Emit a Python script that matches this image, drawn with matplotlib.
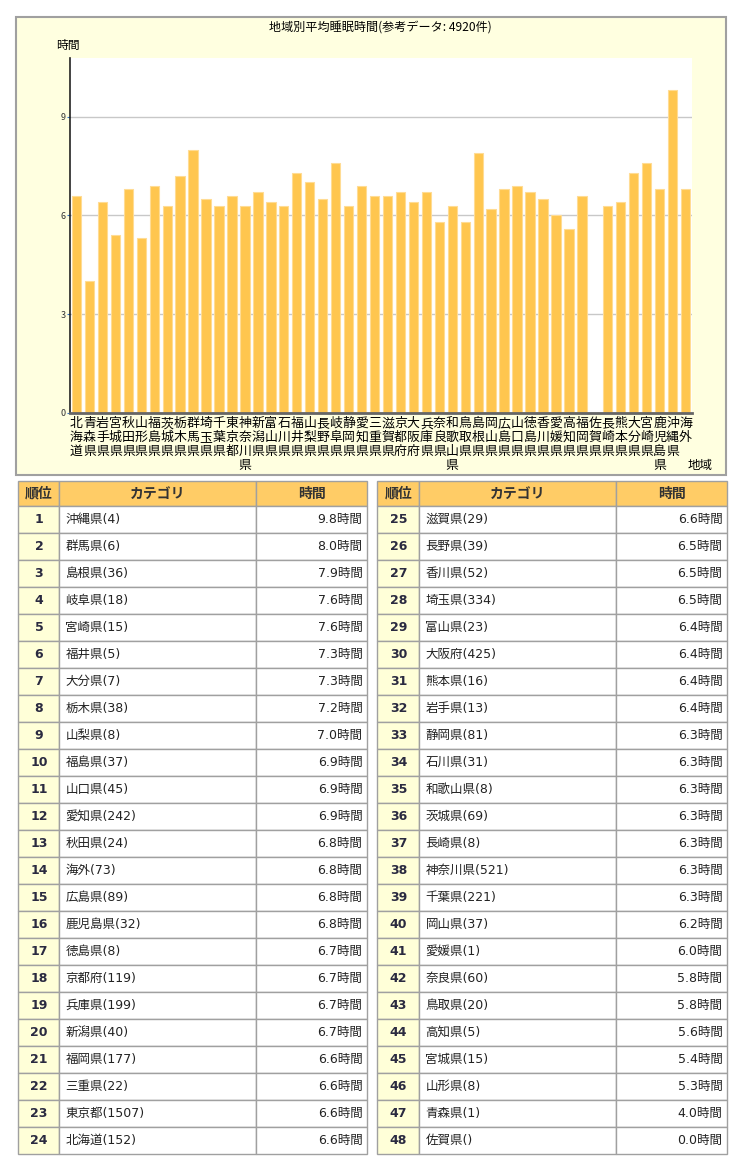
import numpy as np
import matplotlib
matplotlib.use('Agg')
import matplotlib.pyplot as plt
from matplotlib.patches import Rectangle

plt.rcParams['font.family'] = ['Noto Sans CJK JP', 'DejaVu Sans']

# chart data: prefectures in chart order
prefectures = ['北海道', '青森県', '岩手県', '宮城県', '秋田県', '山形県', '福島県', '茨城県',
               '栃木県', '群馬県', '埼玉県', '千葉県', '東京都', '神奈川県', '新潟県', '富山県',
               '石川県', '福井県', '山梨県', '長野県', '岐阜県', '静岡県', '愛知県', '三重県',
               '滋賀県', '京都府', '大阪府', '兵庫県', '奈良県', '和歌山県', '鳥取県', '島根県',
               '岡山県', '広島県', '山口県', '徳島県', '香川県', '愛媛県', '高知県', '福岡県',
               '佐賀県', '長崎県', '熊本県', '大分県', '宮崎県', '鹿児島県', '沖縄県', '海外']
hours = [6.6, 4.0, 6.4, 5.4, 6.8, 5.3, 6.9, 6.3,
         7.2, 8.0, 6.5, 6.3, 6.6, 6.3, 6.7, 6.4,
         6.3, 7.3, 7.0, 6.5, 7.6, 6.3, 6.9, 6.6,
         6.6, 6.7, 6.4, 6.7, 5.8, 6.3, 5.8, 7.9,
         6.2, 6.8, 6.9, 6.7, 6.5, 6.0, 5.6, 6.6,
         0.0, 6.3, 6.4, 7.3, 7.6, 6.8, 9.8, 6.8]
y_ticks = [0, 3, 6, 9]

# ranking table
rank_names = ['沖縄県', '群馬県', '島根県', '岐阜県', '宮崎県', '福井県', '大分県', '栃木県',
              '山梨県', '福島県', '山口県', '愛知県', '秋田県', '海外', '広島県', '鹿児島県',
              '徳島県', '京都府', '兵庫県', '新潟県', '福岡県', '三重県', '東京都', '北海道',
              '滋賀県', '長野県', '香川県', '埼玉県', '富山県', '大阪府', '熊本県', '岩手県',
              '静岡県', '石川県', '和歌山県', '茨城県', '長崎県', '神奈川県', '千葉県', '岡山県',
              '愛媛県', '奈良県', '鳥取県', '高知県', '宮城県', '山形県', '青森県', '佐賀県']
rank_counts = ['4', '6', '36', '18', '15', '5', '7', '38',
               '8', '37', '45', '242', '24', '73', '89', '32',
               '8', '119', '199', '40', '177', '22', '1507', '152',
               '29', '39', '52', '334', '23', '425', '16', '13',
               '81', '31', '8', '69', '8', '521', '221', '37',
               '1', '60', '20', '5', '15', '8', '1', '']
rank_hours = [9.8, 8.0, 7.9, 7.6, 7.6, 7.3, 7.3, 7.2,
              7.0, 6.9, 6.9, 6.9, 6.8, 6.8, 6.8, 6.8,
              6.7, 6.7, 6.7, 6.7, 6.6, 6.6, 6.6, 6.6,
              6.6, 6.5, 6.5, 6.5, 6.4, 6.4, 6.4, 6.4,
              6.3, 6.3, 6.3, 6.3, 6.3, 6.3, 6.3, 6.2,
              6.0, 5.8, 5.8, 5.6, 5.4, 5.3, 4.0, 0.0]
headers = ['順位', 'カテゴリ', '時間']

W, H = 735, 1171
fig = plt.figure(figsize=(W / 100, H / 100), dpi=100)

# overlay in pixel coords for box + tables
bg = fig.add_axes([0, 0, 1, 1], zorder=0)
bg.set_xlim(0, W)
bg.set_ylim(H, 0)
bg.axis('off')

mixed = ['DejaVu Sans', 'Noto Sans CJK JP']

# chart box
bg.add_patch(Rectangle((16.5, 16.5), 710, 458.5, facecolor='#FFFFE0', edgecolor='#A0A0A0', linewidth=1.5))
bg.text(380, 28, '地域別平均睡眠時間(参考データ: 4920件)', ha='center', va='center', fontsize=8.7)
bg.text(56, 45, '時間', ha='left', va='center', fontsize=8.5)
bg.text(700, 466, '地域', ha='center', va='center', fontsize=9)

# bar chart
ax = fig.add_axes([70 / W, 1 - 413 / H, (692 - 70) / W, (413 - 58) / H], zorder=1)
x = np.arange(len(prefectures))
ax.bar(x, hours, width=0.72, color='#FFC64F', edgecolor='#FFDC94', linewidth=0.8, zorder=2)
ax.set_xlim(-0.5, len(prefectures) - 0.5)
ax.set_ylim(0, max(hours) * 1.1)
ax.set_yticks(y_ticks)
ax.set_yticklabels([str(v) for v in y_ticks], fontsize=6.5, color='#333333')
ax.yaxis.grid(True, color='#C8C8C8', linewidth=1, zorder=0)
ax.set_axisbelow(True)
ax.set_xticks(x)
ax.set_xticklabels(['\n'.join(p) for p in prefectures], fontsize=9.3, linespacing=1.1, va='top')
ax.tick_params(axis='x', length=0, pad=3)
ax.tick_params(axis='y', length=2, pad=1, color='#3377CC')
for s in ['top', 'right']:
    ax.spines[s].set_visible(False)
ax.spines['left'].set_color('#222222')
ax.spines['left'].set_linewidth(1.2)
ax.spines['bottom'].set_color('#666666')
ax.spines['bottom'].set_linewidth(2)


def draw_table(x0, x1, x2, x3, names, counts, vals, start):
    top, hh, rh = 481, 25, 27
    n = len(names)
    # header
    for a, b in [(x0, x1), (x1, x2), (x2, x3)]:
        bg.add_patch(Rectangle((a, top), b - a, hh, facecolor='#FFCC66', edgecolor='#A0A0A0', linewidth=1))
    bg.text((x0 + x1) / 2, top + hh / 2, headers[0], ha='center', va='center', fontsize=10, fontweight='bold', color='#333333')
    bg.text((x1 + x2) / 2, top + hh / 2, headers[1], ha='center', va='center', fontsize=10, fontweight='bold', color='#333333')
    bg.text((x2 + x3) / 2, top + hh / 2, headers[2], ha='center', va='center', fontsize=10, fontweight='bold', color='#333333')
    for i in range(n):
        y = top + hh + i * rh
        bg.add_patch(Rectangle((x0, y), x1 - x0, rh, facecolor='#FFFFD8', edgecolor='#A0A0A0', linewidth=1))
        bg.add_patch(Rectangle((x1, y), x2 - x1, rh, facecolor='white', edgecolor='#A0A0A0', linewidth=1))
        bg.add_patch(Rectangle((x2, y), x3 - x2, rh, facecolor='white', edgecolor='#A0A0A0', linewidth=1))
        yc = y + rh / 2
        bg.text((x0 + x1) / 2, yc, str(start + i), ha='center', va='center', fontsize=9,
                fontweight='bold', color='#2A2A40', family='DejaVu Sans')
        bg.text(x1 + 6, yc, f'{names[i]}({counts[i]})', ha='left', va='center', fontsize=9,
                color='#222222', family=mixed)
        bg.text(x3 - 5, yc, f'{vals[i]:.1f}時間', ha='right', va='center', fontsize=9,
                color='#222222', family=mixed)


draw_table(18.5, 59.5, 256.5, 367.5, rank_names[:24], rank_counts[:24], rank_hours[:24], 1)
draw_table(377.5, 419.5, 616.5, 727.5, rank_names[24:], rank_counts[24:], rank_hours[24:], 25)

fig.savefig('out.png', dpi=100)
